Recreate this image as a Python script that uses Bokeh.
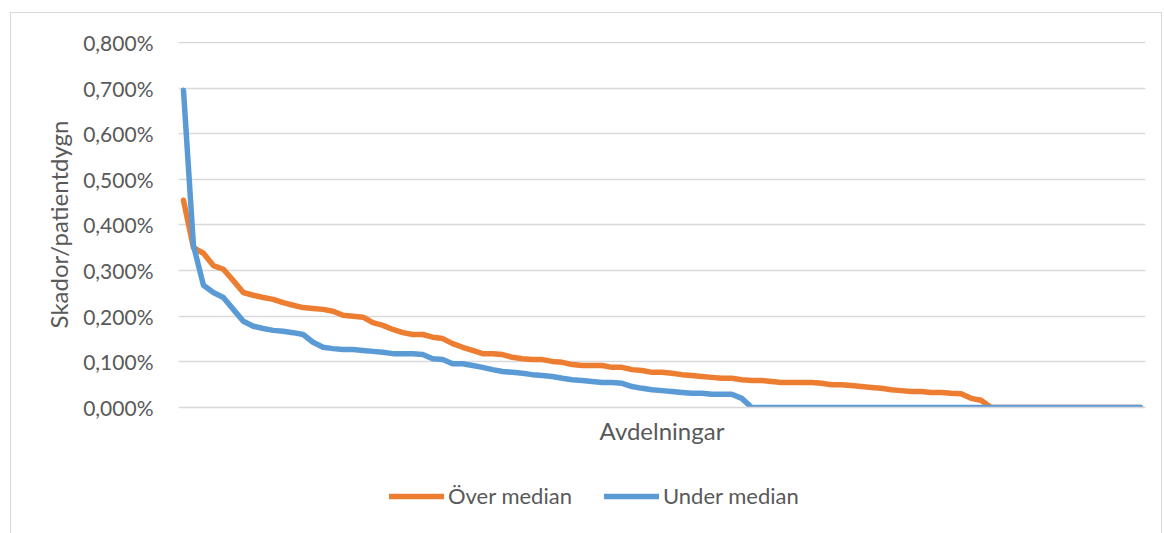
from bokeh.plotting import figure
from bokeh.layouts import column
from bokeh.models import (Range1d, CustomJSTickFormatter, FixedTicker, Legend,
                          LegendItem)
from bokeh.embed import file_html
from bokeh.resources import INLINE

# Injury rate per patient day (in %), wards sorted in descending order
over_median = [
    0.454, 0.350, 0.338, 0.311, 0.303, 0.278, 0.252, 0.246, 0.241, 0.237,
    0.230, 0.224, 0.219, 0.217, 0.215, 0.211, 0.202, 0.200, 0.198, 0.186,
    0.180, 0.171, 0.164, 0.160, 0.160, 0.154, 0.151, 0.140, 0.132, 0.125,
    0.118, 0.118, 0.116, 0.110, 0.107, 0.105, 0.105, 0.101, 0.099, 0.094,
    0.092, 0.092, 0.092, 0.088, 0.088, 0.083, 0.081, 0.077, 0.077, 0.075,
    0.072, 0.070, 0.068, 0.066, 0.064, 0.064, 0.061, 0.059, 0.059, 0.057,
    0.055, 0.055, 0.055, 0.055, 0.053, 0.050, 0.050, 0.048, 0.046, 0.044,
    0.042, 0.039, 0.037, 0.035, 0.035, 0.033, 0.033, 0.031, 0.030, 0.020,
    0.016, 0.0, 0.0, 0.0, 0.0, 0.0, 0.0, 0.0, 0.0, 0.0,
    0.0, 0.0, 0.0, 0.0, 0.0, 0.0, 0.0,
]
under_median = [
    0.695, 0.355, 0.268, 0.252, 0.241, 0.215, 0.189, 0.178, 0.173, 0.169,
    0.167, 0.164, 0.160, 0.143, 0.132, 0.129, 0.127, 0.127, 0.125, 0.123,
    0.121, 0.118, 0.118, 0.118, 0.116, 0.107, 0.105, 0.096, 0.096, 0.092,
    0.088, 0.083, 0.079, 0.077, 0.075, 0.072, 0.070, 0.068, 0.064, 0.061,
    0.059, 0.057, 0.055, 0.055, 0.053, 0.046, 0.042, 0.039, 0.037, 0.035,
    0.033, 0.031, 0.031, 0.029, 0.029, 0.029, 0.020, 0.0, 0.0, 0.0,
    0.0, 0.0, 0.0, 0.0, 0.0, 0.0, 0.0, 0.0, 0.0, 0.0,
    0.0, 0.0, 0.0, 0.0, 0.0, 0.0, 0.0, 0.0, 0.0, 0.0,
    0.0, 0.0, 0.0, 0.0, 0.0, 0.0, 0.0, 0.0, 0.0, 0.0,
    0.0, 0.0, 0.0, 0.0, 0.0, 0.0, 0.0,
]
wards = list(range(len(over_median)))
y_ticks = [0.0, 0.1, 0.2, 0.3, 0.4, 0.5, 0.6, 0.7, 0.8]
series_names = ["Över median", "Under median"]

FONT = "Lato"
TEXT = "#595959"
GRID = "#d9d9d9"
ORANGE = "#ed7d31"
BLUE = "#5b9bd5"
LINE_W = 5.5

# ---- main chart -----------------------------------------------------------
p = figure(
    width=1150, height=460,
    output_backend="svg", toolbar_location=None,
    x_range=Range1d(-0.5, len(wards) - 0.5),
    y_range=Range1d(0, 0.802),
    min_border_left=167, min_border_right=16,
    min_border_top=28, min_border_bottom=66,
)
p.outline_line_color = None
p.background_fill_color = "white"
p.border_fill_color = "white"

p.line(wards, over_median, line_color=ORANGE, line_width=LINE_W,
       line_join="round", line_cap="round")
p.line(wards, under_median, line_color=BLUE, line_width=LINE_W,
       line_join="round", line_cap="round")

# y axis: percentage ticks with decimal comma
p.yaxis.ticker = FixedTicker(ticks=y_ticks)
p.yaxis.formatter = CustomJSTickFormatter(
    code="return tick.toFixed(3).replace('.', ',') + '%';")
p.yaxis.axis_line_color = None
p.yaxis.major_tick_line_color = None
p.yaxis.minor_tick_line_color = None
p.yaxis.major_label_standoff = 19
p.yaxis.major_label_text_font = FONT
p.yaxis.major_label_text_font_size = "21px"
p.yaxis.major_label_text_color = TEXT
p.yaxis.axis_label = "Skador/patientdygn"
p.yaxis.axis_label_text_font = FONT
p.yaxis.axis_label_text_font_size = "24px"
p.yaxis.axis_label_text_font_style = "normal"
p.yaxis.axis_label_text_color = TEXT
p.yaxis.axis_label_standoff = 7

# x axis: categories without visible tick labels
p.xaxis.axis_line_color = GRID
p.xaxis.axis_line_width = 1.5
p.xaxis.major_tick_line_color = None
p.xaxis.minor_tick_line_color = None
p.xaxis.major_tick_out = 0
p.xaxis.minor_tick_out = 0
p.xaxis.major_label_standoff = 0
p.xaxis.major_label_text_font_size = "0px"
p.xaxis.major_label_text_alpha = 0
p.xaxis.axis_label = "Avdelningar"
p.xaxis.axis_label_text_font = FONT
p.xaxis.axis_label_text_font_size = "24px"
p.xaxis.axis_label_text_font_style = "normal"
p.xaxis.axis_label_text_color = TEXT
p.xaxis.axis_label_standoff = 8

p.xgrid.visible = False
p.ygrid.grid_line_color = GRID
p.ygrid.grid_line_width = 1.5

# ---- legend strip under the chart -----------------------------------------
# the series are repeated here only as legend keys; the y range keeps them out of view
lg = figure(
    width=1150, height=60,
    output_backend="svg", toolbar_location=None,
    x_range=Range1d(-0.5, len(wards) - 0.5), y_range=Range1d(10, 11),
    x_axis_type=None, y_axis_type=None,
    min_border=0,
)
lg.outline_line_color = None
lg.xgrid.visible = False
lg.ygrid.visible = False
k_over = lg.line(wards, over_median, line_color=ORANGE, line_width=LINE_W,
                 line_cap="round")
k_under = lg.line(wards, under_median, line_color=BLUE, line_width=LINE_W,
                  line_cap="round")

legend = Legend(
    items=[LegendItem(label=series_names[0], renderers=[k_over]),
           LegendItem(label=series_names[1], renderers=[k_under])],
    orientation="horizontal", location=(211, 24),
    glyph_width=55, glyph_height=20, label_standoff=4, spacing=32,
    label_text_font=FONT, label_text_font_size="22px", label_text_color=TEXT,
    label_height=20,
    border_line_color=None, background_fill_alpha=0,
    padding=0, margin=0,
)
lg.add_layout(legend, "center")

chart = column(p, lg, spacing=0)
chart.margin = (12, 0, 0, 10)
chart.styles = {"border-left": f"1px solid {GRID}", "border-top": f"1px solid {GRID}",
                "border-right": f"1px solid {GRID}"}

open("out.html", "w").write(file_html(chart, INLINE))
